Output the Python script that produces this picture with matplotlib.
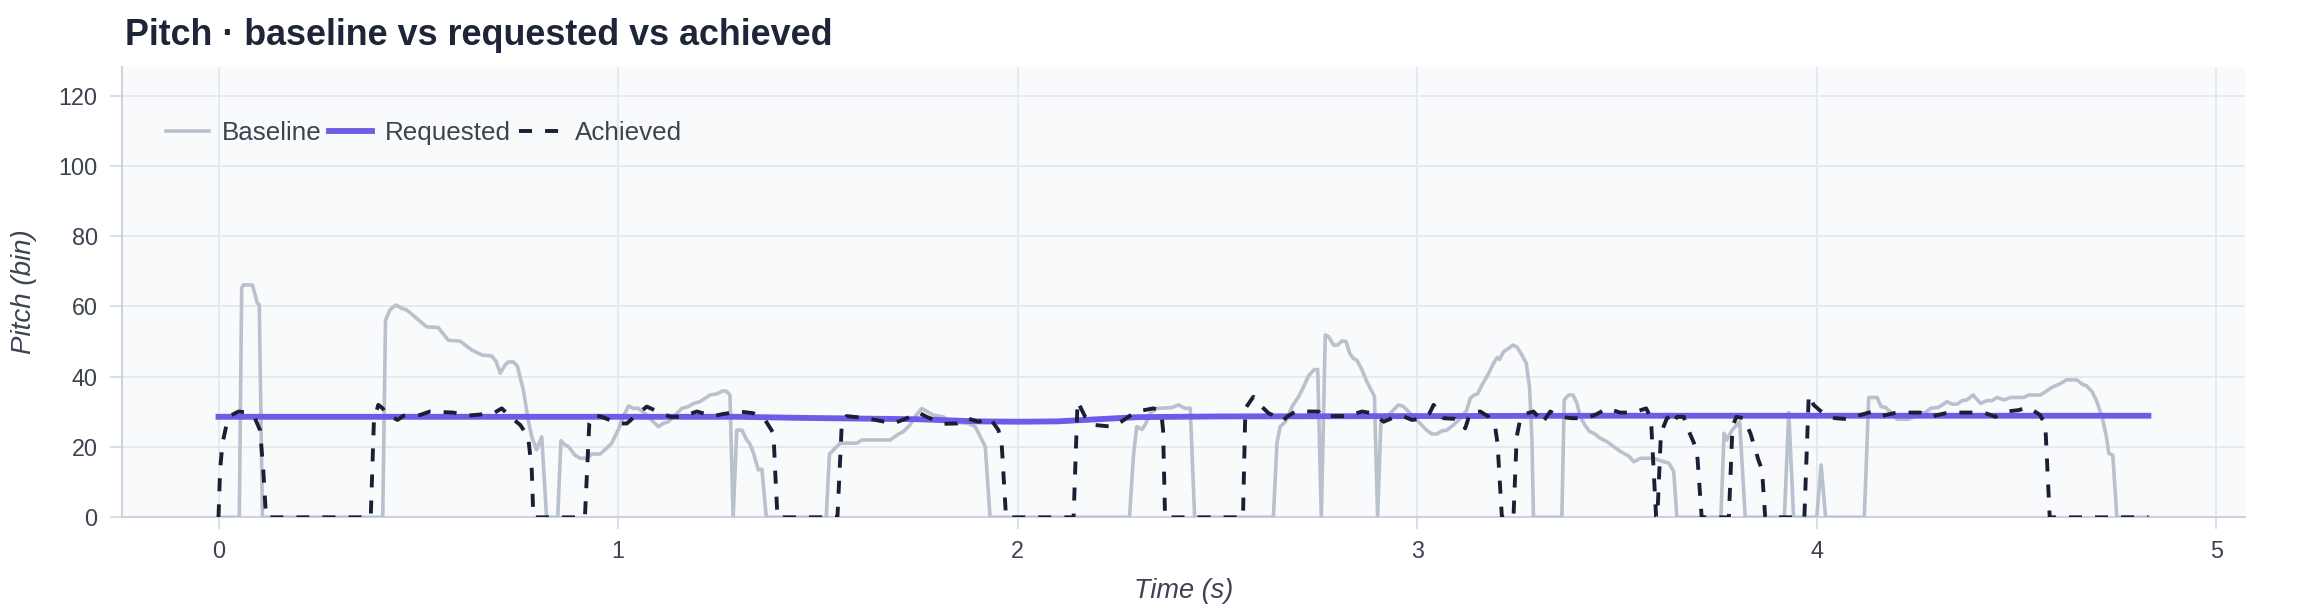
import matplotlib.pyplot as plt

plt.rcParams['font.family'] = ['Liberation Sans', 'DejaVu Sans']

# time (s) / pitch (bin)
baseline_t = [0, 0.052, 0.058, 0.062, 0.085, 0.097, 0.102, 0.11,
              0.411, 0.418, 0.429, 0.444, 0.458, 0.471, 0.496, 0.521, 0.55, 0.575, 0.605, 0.634, 0.659,
              0.684, 0.695, 0.705, 0.717, 0.726, 0.738, 0.748, 0.763, 0.775, 0.784, 0.796, 0.809, 0.821,
              0.849, 0.857, 0.867, 0.876, 0.892, 0.905, 0.923, 0.934, 0.955, 0.967, 0.984, 1.0, 1.013,
              1.026, 1.038, 1.051, 1.072, 1.088, 1.101, 1.113, 1.126, 1.143, 1.16, 1.176, 1.189, 1.205,
              1.218, 1.23, 1.247, 1.262, 1.272, 1.28, 1.288, 1.297, 1.31, 1.322, 1.329, 1.339, 1.351,
              1.36, 1.371,
              1.521, 1.529, 1.556, 1.598, 1.61, 1.681, 1.702, 1.714, 1.731, 1.743, 1.76, 1.773, 1.789,
              1.814, 1.831, 1.877, 1.894, 1.919, 1.931,
              2.28, 2.29, 2.298, 2.311, 2.319, 2.332, 2.348, 2.386, 2.403, 2.419, 2.432, 2.443,
              2.64, 2.649, 2.657, 2.67, 2.687, 2.703, 2.716, 2.728, 2.741, 2.751, 2.76, 2.77, 2.778,
              2.791, 2.801, 2.812, 2.822, 2.831, 2.84, 2.849, 2.862, 2.874, 2.889, 2.893, 2.901, 2.909,
              2.92, 2.937, 2.953, 2.966, 2.986, 3.007, 3.024, 3.037, 3.049, 3.062, 3.074, 3.091, 3.112,
              3.124, 3.133, 3.143, 3.151, 3.162, 3.179, 3.191, 3.2, 3.206, 3.216, 3.229, 3.24, 3.25,
              3.262, 3.273, 3.281, 3.287, 3.291,
              3.362, 3.368, 3.379, 3.39, 3.4, 3.408, 3.421, 3.432, 3.442, 3.458, 3.475, 3.492, 3.509,
              3.53, 3.542, 3.559, 3.592, 3.609, 3.63, 3.642, 3.65,
              3.76, 3.768, 3.775, 3.788, 3.807, 3.821,
              3.919, 3.93, 3.942, 4.0, 4.011, 4.022,
              4.119, 4.13, 4.151, 4.161, 4.172, 4.188, 4.201, 4.23, 4.259, 4.272, 4.285, 4.305, 4.326,
              4.339, 4.351, 4.364, 4.376, 4.391, 4.41, 4.426, 4.439, 4.451, 4.468, 4.485, 4.518, 4.53,
              4.56, 4.576, 4.589, 4.601, 4.614, 4.625, 4.651, 4.664, 4.675, 4.689, 4.701, 4.714, 4.725,
              4.731, 4.741, 4.751, 4.83]
baseline_v = [0, 0, 65.1, 66.1, 66.1, 61.0, 60.5, 0,
              0, 56.1, 59.0, 60.4, 59.5, 59.0, 56.6, 54.2, 54.0, 50.4, 50.1, 47.6, 46.2,
              45.9, 44.3, 41.0, 43.3, 44.2, 44.2, 43.0, 36.2, 27.7, 22.9, 19.2, 22.9, 0,
              0, 21.8, 20.6, 20.1, 17.7, 16.8, 16.8, 18.0, 18.0, 19.2, 21.1, 24.8, 28.6,
              31.7, 31.0, 31.0, 29.1, 27.2, 25.8, 26.7, 27.2, 29.1, 31.0, 31.5, 32.4, 32.9,
              33.9, 34.8, 35.1, 36.0, 35.8, 34.8, 0, 24.8, 24.8, 22.0, 21.1, 18.2, 13.5,
              13.7, 0,
              0, 18.0, 21.1, 21.1, 22.0, 22.0, 23.7, 24.4, 26.3, 28.6, 31.0, 30.1, 29.1,
              28.6, 27.2, 26.7, 25.8, 20.1, 0,
              0, 17.7, 25.8, 25.0, 26.3, 29.6, 31.0, 31.2, 32.0, 31.0, 31.0, 0,
              0, 21.1, 25.8, 27.2, 31.5, 34.3, 37.2, 40.2, 41.9, 42.1, 0, 51.9, 51.4,
              49.0, 49.0, 50.2, 50.0, 46.7, 45.2, 44.7, 41.9, 38.6, 35.3, 34.3, 0, 26.7,
              28.2, 30.1, 32.0, 31.5, 29.1, 26.7, 24.8, 23.7, 23.7, 24.6, 24.8, 26.3, 28.6,
              30.5, 33.9, 34.8, 35.1, 37.6, 41.0, 43.8, 45.5, 44.9, 47.1, 48.1, 49.0, 48.4,
              46.2, 43.8, 37.2, 22.9, 0,
              0, 33.4, 34.8, 34.8, 32.4, 28.6, 26.0, 24.4, 23.9, 22.5, 21.5, 20.1, 18.7,
              17.4, 15.8, 16.8, 16.8, 16.1, 15.4, 13.0, 0,
              0, 23.9, 22.0, 24.8, 27.2, 0,
              0, 29.8, 0, 0, 14.9, 0,
              0, 34.1, 34.1, 31.5, 31.3, 29.6, 27.9, 27.9, 29.6, 29.8, 31.0, 31.3, 32.9,
              32.2, 32.2, 33.2, 33.4, 34.8, 32.4, 33.2, 33.2, 34.1, 33.4, 34.1, 34.1, 34.8,
              34.8, 36.0, 37.0, 37.6, 38.3, 39.1, 39.1, 37.9, 37.4, 35.8, 32.9, 28.6, 22.9,
              18.2, 17.7, 0, 0]

requested_t = [0, 0.5, 1.0, 1.3, 1.45, 1.6, 1.75, 1.9, 2.0, 2.1, 2.2, 2.3, 2.5, 3.0, 3.5, 4.0, 4.5, 4.83]
requested_v = [28.6, 28.6, 28.6, 28.6, 28.3, 28.1, 27.9, 27.3, 27.2, 27.3, 27.9, 28.5, 28.7, 28.8,
               28.9, 28.9, 28.9, 28.9]

achieved_t = [0, 0.004, 0.01, 0.019, 0.033, 0.05, 0.066, 0.091, 0.104, 0.112, 0.119,
              0.381, 0.389, 0.4, 0.411, 0.418, 0.448, 0.463, 0.504, 0.529, 0.588, 0.621, 0.688, 0.709,
              0.73, 0.755, 0.775, 0.784, 0.788,
              0.917, 0.928, 0.938, 0.959, 1.001, 1.022, 1.056, 1.072, 1.109, 1.131, 1.159, 1.197, 1.238,
              1.263, 1.305, 1.339, 1.368, 1.389, 1.393, 1.399,
              1.549, 1.56, 1.572, 1.622, 1.689, 1.723, 1.752, 1.772, 1.814, 1.848, 1.873, 1.902, 1.931,
              1.952, 1.96, 1.971,
              2.14, 2.15, 2.169, 2.19, 2.236, 2.248, 2.277, 2.298, 2.34, 2.353, 2.361, 2.364, 2.369,
              2.564, 2.57, 2.59, 2.611, 2.628, 2.649, 2.664, 2.674, 2.695, 2.753, 2.761, 2.824, 2.862,
              2.887, 2.916, 2.937, 2.962, 2.987, 3.004, 3.031, 3.041, 3.066, 3.095, 3.112, 3.12, 3.133,
              3.158, 3.179, 3.195, 3.201, 3.212,
              3.241, 3.249, 3.259, 3.27, 3.291, 3.303, 3.312, 3.333, 3.358, 3.387, 3.425, 3.45, 3.475,
              3.508, 3.541, 3.573, 3.585, 3.598, 3.601, 3.61, 3.625, 3.633, 3.64, 3.65, 3.667, 3.675,
              3.7, 3.712,
              3.78, 3.788, 3.792, 3.799, 3.817, 3.834, 3.854, 3.863, 3.871,
              3.969, 3.98, 3.992, 4.021, 4.046, 4.082, 4.109, 4.14, 4.165, 4.2, 4.23, 4.259, 4.284,
              4.322, 4.351, 4.39, 4.418, 4.447, 4.474, 4.505, 4.53, 4.559, 4.572, 4.583, 4.83]
achieved_v = [0, 13.5, 21.1, 25.8, 29.1, 30.1, 29.9, 28.2, 24.8, 13.5, 0,
              0, 27.7, 32.0, 31.0, 29.6, 27.7, 28.9, 29.1, 30.1, 29.8, 28.9, 29.6, 31.0,
              28.6, 26.3, 22.9, 13.5, 0,
              0, 26.7, 29.1, 28.6, 26.7, 26.7, 30.1, 31.5, 29.6, 28.6, 28.6, 30.1, 28.8,
              29.4, 30.1, 29.6, 27.7, 23.9, 13.5, 0,
              0, 26.7, 28.8, 28.2, 26.7, 28.2, 29.8, 28.6, 26.6, 26.7, 28.2, 27.2, 28.2,
              24.8, 21.0, 0,
              0, 33.0, 28.6, 26.3, 25.8, 26.3, 28.6, 30.1, 31.0, 30.5, 28.2, 24.8, 0,
              0, 31.0, 34.3, 31.5, 29.6, 28.6, 27.5, 28.6, 30.1, 30.1, 28.8, 28.8, 30.1,
              29.6, 27.2, 28.2, 28.9, 27.7, 28.0, 29.6, 32.0, 28.2, 28.0, 27.2, 25.3, 29.8,
              30.1, 28.6, 25.8, 21.1, 0,
              0, 22.9, 28.6, 29.4, 30.1, 28.6, 26.7, 30.1, 28.6, 28.2, 28.2, 29.4, 31.0,
              29.8, 29.8, 31.0, 28.2, 0, 0, 23.9, 28.2, 28.6, 26.7, 28.6, 28.6, 25.8,
              19.2, 0,
              0, 22.9, 26.7, 28.6, 28.2, 23.9, 16.3, 13.5, 0,
              0, 34.8, 32.0, 29.1, 28.2, 27.9, 29.1, 30.1, 28.9, 29.8, 29.8, 29.8, 28.6,
              29.6, 29.8, 29.8, 29.8, 28.6, 30.1, 30.5, 31.3, 29.1, 26.3, 0, 0]

fig = plt.figure(figsize=(23.1, 6.16), dpi=100)
ax = fig.add_axes([0.0528, 0.1602, 0.9191, 0.7315])
ax.set_facecolor('#f8fafc')

ax.plot(baseline_t, baseline_v, color='#b9c1cd', lw=2.6, label='Baseline', zorder=3)
ax.plot(requested_t, requested_v, color='#6c5ce7', lw=4.2, label='Requested', zorder=4)
ax.plot(achieved_t, achieved_v, color='#1a1f36', lw=2.8, dashes=(3.35, 3.35), label='Achieved', zorder=5)

ax.set_xlim(-0.2416, 5.072)
ax.set_ylim(0, 128.2)
ax.set_xticks([0, 1, 2, 3, 4, 5])
ax.set_yticks([0, 20, 40, 60, 80, 100, 120])
ax.grid(True, color='#e6e9f0', lw=1.4, zorder=0)
ax.set_axisbelow(True)

for s in ['top', 'right']:
    ax.spines[s].set_visible(False)
for s in ['left', 'bottom']:
    ax.spines[s].set_color('#cdd3de')
    ax.spines[s].set_linewidth(1.5)
ax.tick_params(axis='both', colors='#d9dee7', length=8.5, width=1.4, labelsize=16.8,
               labelcolor='#3c4250')
ax.tick_params(axis='y', pad=9)
ax.tick_params(axis='x', pad=8)

ax.set_xlabel('Time (s)', fontsize=19.5, style='italic', color='#3c4250')
ax.set_ylabel('Pitch (bin)', fontsize=20, style='italic', color='#3c4250')
ax.xaxis.set_label_coords(0.5, -0.135)
ax.yaxis.set_label_coords(-0.040, 0.5)

fig.text(125 / 2310, 1 - 45 / 616, 'Pitch · baseline vs requested vs achieved', fontsize=25.8,
         fontweight='bold', color='#1e2538', va='baseline', ha='left')

ax.legend(loc='center left', bbox_to_anchor=(0.0207, 0.8535), ncol=3, frameon=False,
          fontsize=18.7, handlelength=1.65, handletextpad=0.5, columnspacing=0.3,
          borderpad=0, borderaxespad=0, labelcolor='#3c4250')

fig.savefig('out.png', dpi=100)
